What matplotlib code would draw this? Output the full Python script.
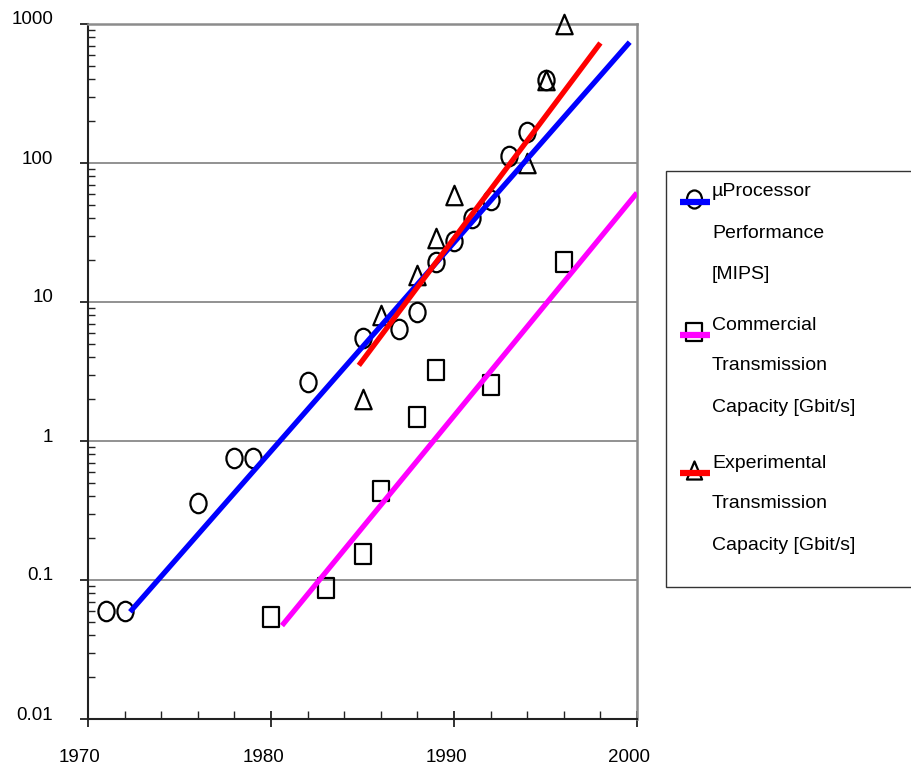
import numpy as np
import matplotlib
matplotlib.use('Agg')
import matplotlib.pyplot as plt
import matplotlib.path as mpath
import matplotlib.transforms as mtransforms
from matplotlib.lines import Line2D
from matplotlib.patches import Rectangle

plt.rcParams['font.family'] = ['Liberation Sans', 'DejaVu Sans']

# uProcessor performance [MIPS]
cpu_years = [1971, 1972, 1976, 1978, 1979, 1982, 1985, 1987, 1988, 1989,
             1990, 1991, 1992, 1993, 1994, 1995]
cpu_mips = [0.06, 0.06, 0.36, 0.75, 0.75, 2.65, 5.5, 6.4, 8.5, 19.4,
            27.5, 40, 54, 112, 167, 395]

# commercial transmission capacity [Gbit/s]
com_years = [1980, 1983, 1985, 1986, 1988, 1989, 1992, 1996]
com_gbit = [0.054, 0.088, 0.154, 0.44, 1.49, 3.24, 2.53, 19.4]

# experimental transmission capacity [Gbit/s]
exp_years = [1985, 1986, 1988, 1989, 1990, 1994, 1995, 1996]
exp_gbit = [2.0, 8.0, 15.6, 29, 59, 100, 395, 1000]

# trend lines (end points)
cpu_trend_x = [1972.3, 1999.6]
cpu_trend_y = [0.059, 740]
com_trend_x = [1980.6, 2000.0]
com_trend_y = [0.047, 61]
exp_trend_x = [1984.8, 1998.0]
exp_trend_y = [3.5, 730]

legend_labels = ['\u00b5Processor\nPerformance\n[MIPS]',
                 'Commercial\nTransmission\nCapacity [Gbit/s]',
                 'Experimental\nTransmission\nCapacity [Gbit/s]']


def make_marker(kind):
    if kind == 'ellipse':
        circ = mpath.Path.unit_circle()
        verts = circ.vertices * np.array([0.83, 1.0])
        return mpath.Path(verts, circ.codes)
    if kind == 'square':
        verts = [(-0.43, -0.5), (0.43, -0.5), (0.43, 0.5), (-0.43, 0.5), (-0.43, -0.5)]
        return mpath.Path(verts, closed=True)
    verts = [(-0.42, -0.5), (0.42, -0.5), (0.0, 0.5), (-0.42, -0.5)]
    return mpath.Path(verts, closed=True)


m_circle = make_marker('ellipse')
m_square = make_marker('square')
m_tri = make_marker('triangle')

fig = plt.figure(figsize=(9.11, 7.71), dpi=100)
ax = fig.add_axes([88 / 911, 52 / 771, 549 / 911, 695 / 771])

mk = dict(linestyle='none', markersize=14, markerfacecolor='none',
          markeredgecolor='black', markeredgewidth=1.6, zorder=3, clip_on=False)
ax.plot(cpu_years, cpu_mips, marker=m_circle, **mk)
ax.plot(com_years, com_gbit, marker=m_square, **mk)
ax.plot(exp_years, exp_gbit, marker=m_tri, **mk)

ax.plot(cpu_trend_x, cpu_trend_y, color='#0000ff', lw=3.8, solid_capstyle='butt', zorder=4)
ax.plot(com_trend_x, com_trend_y, color='#ff00ff', lw=3.8, solid_capstyle='butt', zorder=4)
ax.plot(exp_trend_x, exp_trend_y, color='#ff0000', lw=3.8, solid_capstyle='butt', zorder=4)

ax.set_yscale('log')
ax.set_xlim(1970, 2000)
ax.set_ylim(0.01, 1000)

ax.set_xticks([1970, 1980, 1990, 2000])
ax.set_xticks(np.arange(1970, 2001, 2), minor=True)
ax.set_yticks([0.01, 0.1, 1, 10, 100, 1000])
ax.set_yticklabels(['0.01', '0.1', '1', '10', '100', '1000'])
ax.yaxis.set_minor_locator(matplotlib.ticker.LogLocator(base=10, subs=np.arange(2, 10)))
ax.yaxis.set_minor_formatter(matplotlib.ticker.NullFormatter())

ax.tick_params(axis='x', which='major', direction='inout', length=11, width=1.3,
               color='#222222', labelsize=13.5, pad=16)
ax.tick_params(axis='x', which='minor', direction='in', length=6, width=1.0, color='#222222')
ax.tick_params(axis='y', which='major', direction='out', length=6, width=1.3,
               color='#222222', labelsize=13.5, pad=19)
ax.tick_params(axis='y', which='minor', direction='in', length=5, width=1.0, color='#222222')

xoff = mtransforms.ScaledTranslation(-8 / 100, 0, fig.dpi_scale_trans)
for lab in ax.get_xticklabels():
    lab.set_transform(lab.get_transform() + xoff)
yoff = mtransforms.ScaledTranslation(0, 6 / 100, fig.dpi_scale_trans)
for lab in ax.get_yticklabels():
    lab.set_transform(lab.get_transform() + yoff)

ax.yaxis.grid(True, which='major', color='#7f7f7f', lw=1.2)
ax.set_axisbelow(True)
for side in ['left', 'bottom']:
    ax.spines[side].set_color('#222222')
    ax.spines[side].set_linewidth(1.5)
for side in ['top', 'right']:
    ax.spines[side].set_color('#8c8c8c')
    ax.spines[side].set_linewidth(1.8)

# legend drawn by hand to keep Excel-like layout
W, H = 911.0, 771.0
fig.patches.append(Rectangle((666 / W, 1 - 587 / H), 260 / W, 416 / H,
                             transform=fig.transFigure, facecolor='white',
                             edgecolor='#333333', lw=1.0))
leg_handles = [(m_circle, '#0000ff'), (m_square, '#ff00ff'), (m_tri, '#ff0000')]
leg_tops = [192, 325, 463]
for (mrk, col), label, ytop in zip(leg_handles, legend_labels, leg_tops):
    yh = 1 - (ytop + 10) / H
    fig.add_artist(Line2D([694 / W], [1 - (ytop + 7) / H], marker=mrk, markersize=13,
                          markerfacecolor='none', markeredgecolor='black',
                          markeredgewidth=1.6, transform=fig.transFigure))
    fig.add_artist(Line2D([680 / W, 710 / W], [yh, yh], color=col, lw=4.5,
                          solid_capstyle='butt', transform=fig.transFigure))
    for i, line in enumerate(label.split('\n')):
        fig.text(712 / W, 1 - (ytop + 41 * i) / H, line, fontsize=14,
                 ha='left', va='center')

fig.savefig('out.png', dpi=100)
